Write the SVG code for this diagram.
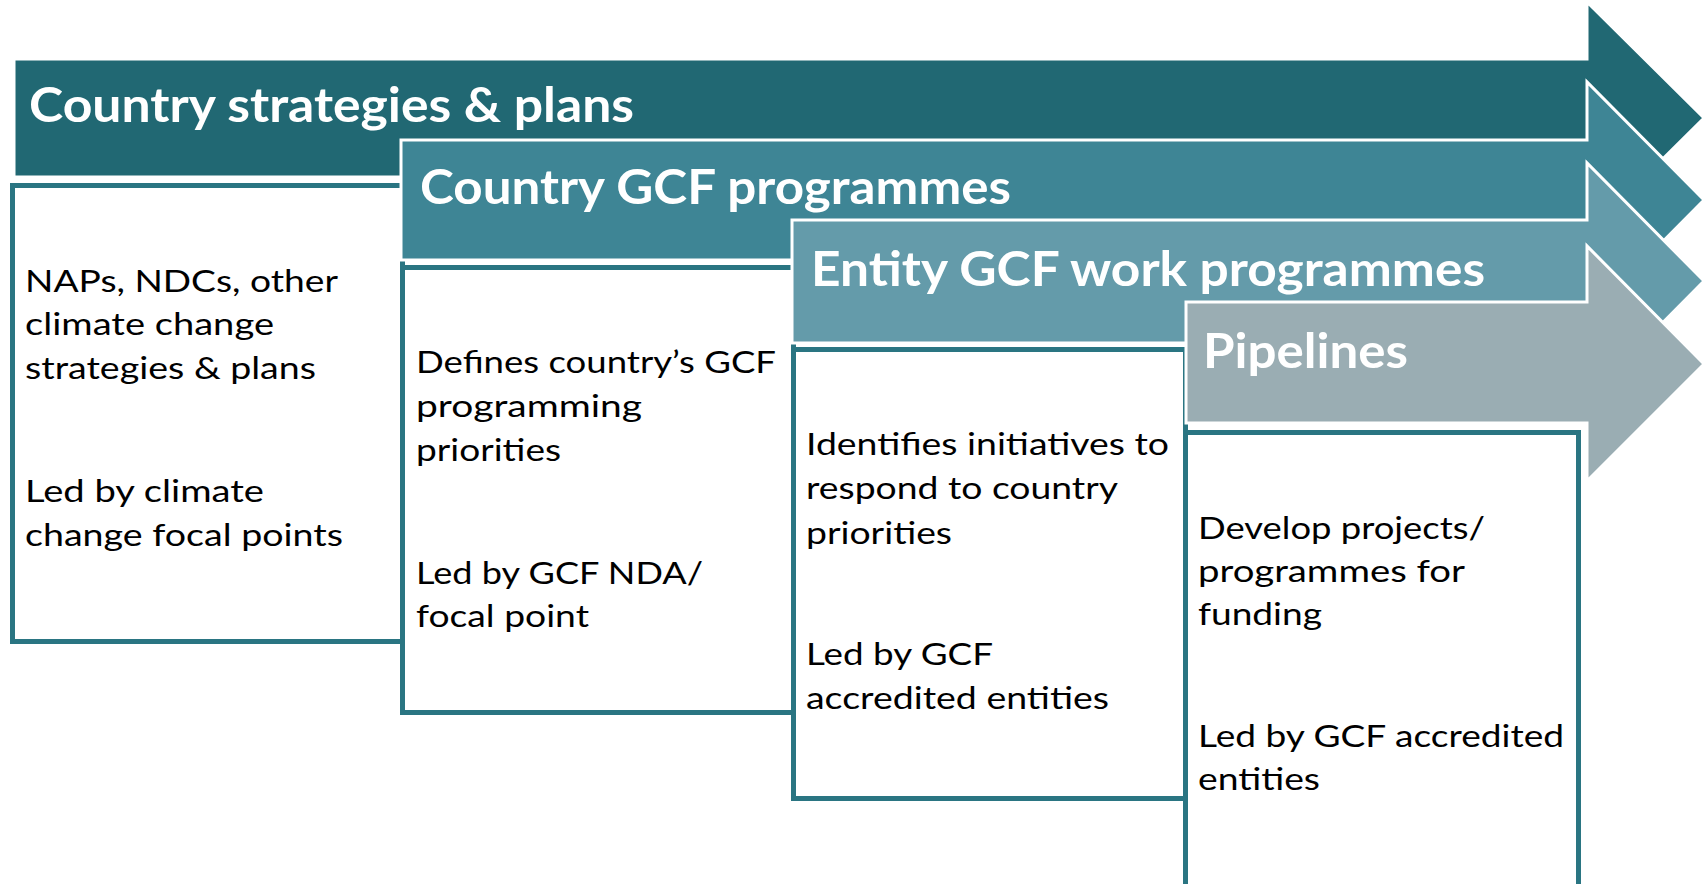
<svg xmlns="http://www.w3.org/2000/svg" width="1708" height="884" viewBox="0 0 1708 884">
<style>
.arr{stroke:#ffffff;stroke-width:3;stroke-linejoin:miter}
.box{fill:#ffffff;stroke:#2A7582;stroke-width:5}
.hd{font-family:Lato,"Open Sans","Liberation Sans",sans-serif;font-weight:bold;font-size:47px;fill:#ffffff}
.bd{font-family:Lato,"Open Sans","Liberation Sans",sans-serif;font-size:31px;fill:#000000}
</style>
<rect width="1708" height="884" fill="#ffffff"/>
<g id="stage1">
<polygon class="arr" fill="#216873" points="14,59 1587,59 1587,2 1704,118 1587,234 1587,177 14,177"/>
<text class="hd" x="29" y="122" textLength="605" lengthAdjust="spacingAndGlyphs">Country strategies &amp; plans</text>
<rect class="box" x="12.5" y="185.5" width="390" height="456"/>
<text class="bd" x="25" y="292" textLength="313" lengthAdjust="spacingAndGlyphs">NAPs, NDCs, other</text>
<text class="bd" x="25" y="335" textLength="249" lengthAdjust="spacingAndGlyphs">climate change</text>
<text class="bd" x="25" y="379" textLength="291" lengthAdjust="spacingAndGlyphs">strategies &amp; plans</text>
<text class="bd" x="25" y="502" textLength="239" lengthAdjust="spacingAndGlyphs">Led by climate</text>
<text class="bd" x="25" y="546" textLength="318" lengthAdjust="spacingAndGlyphs">change focal points</text>
</g>
<g id="stage2">
<polygon class="arr" fill="#3E8595" points="401,140 1587,140 1587,82 1704,200 1587,318 1587,260 401,260"/>
<text class="hd" x="420" y="204" textLength="591" lengthAdjust="spacingAndGlyphs">Country GCF programmes</text>
<rect class="box" x="402.5" y="267.5" width="391" height="445"/>
<text class="bd" x="416" y="373" textLength="360" lengthAdjust="spacingAndGlyphs">Defines country’s GCF</text>
<text class="bd" x="416" y="417" textLength="226" lengthAdjust="spacingAndGlyphs">programming</text>
<text class="bd" x="416" y="461" textLength="145" lengthAdjust="spacingAndGlyphs">priorities</text>
<text class="bd" x="416" y="584" textLength="287" lengthAdjust="spacingAndGlyphs">Led by GCF NDA/</text>
<text class="bd" x="416" y="627" textLength="173" lengthAdjust="spacingAndGlyphs">focal point</text>
</g>
<g id="stage3">
<polygon class="arr" fill="#649BAA" points="792,220 1587,220 1587,163 1704,281 1587,399 1587,343 792,343"/>
<text class="hd" x="811" y="286" textLength="674" lengthAdjust="spacingAndGlyphs">Entity GCF work programmes</text>
<rect class="box" x="793.5" y="349.5" width="392" height="449"/>
<text class="bd" x="806" y="455" textLength="363" lengthAdjust="spacingAndGlyphs">Identifies initiatives to</text>
<text class="bd" x="806" y="499" textLength="312" lengthAdjust="spacingAndGlyphs">respond to country</text>
<text class="bd" x="806" y="544" textLength="146" lengthAdjust="spacingAndGlyphs">priorities</text>
<text class="bd" x="806" y="665" textLength="187" lengthAdjust="spacingAndGlyphs">Led by GCF</text>
<text class="bd" x="806" y="709" textLength="303" lengthAdjust="spacingAndGlyphs">accredited entities</text>
</g>
<g id="stage4">
<polygon class="arr" fill="#9AADB3" points="1186,302 1587,302 1587,246 1704,364 1587,481 1587,423 1186,423"/>
<text class="hd" x="1203" y="368" textLength="205" lengthAdjust="spacingAndGlyphs">Pipelines</text>
<rect class="box" x="1185.5" y="432.5" width="393" height="460"/>
<text class="bd" x="1198" y="539" textLength="287" lengthAdjust="spacingAndGlyphs">Develop projects/</text>
<text class="bd" x="1198" y="582" textLength="267" lengthAdjust="spacingAndGlyphs">programmes for</text>
<text class="bd" x="1198" y="625" textLength="124" lengthAdjust="spacingAndGlyphs">funding</text>
<text class="bd" x="1198" y="747" textLength="366" lengthAdjust="spacingAndGlyphs">Led by GCF accredited</text>
<text class="bd" x="1198" y="790" textLength="122" lengthAdjust="spacingAndGlyphs">entities</text>
</g>
<g id="connectors"></g>
</svg>
